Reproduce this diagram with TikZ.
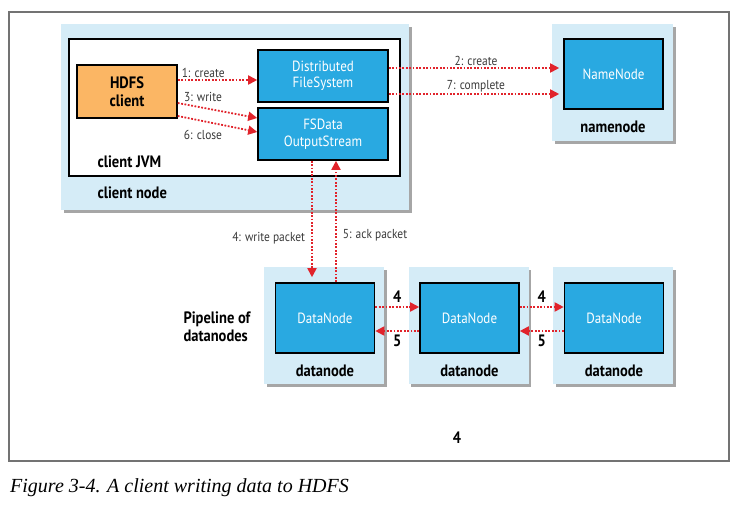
\documentclass[tikz,border=0pt]{standalone}
\usepackage{fontspec}
\setmainfont{PT Sans}[FakeStretch=0.88]
\newfontfamily\captionfont{Liberation Serif}
\usetikzlibrary{arrows.meta,shadows,positioning}

\definecolor{hostblue}{HTML}{D5ECF7}
\definecolor{procblue}{HTML}{29A9E1}
\definecolor{clientorange}{HTML}{FBB664}
\definecolor{flowred}{HTML}{E1232B}
\definecolor{labelgray}{HTML}{3A3A3A}

\tikzset{
  host/.style={fill=hostblue, inner sep=0pt, minimum width=120pt, minimum height=117pt,
    drop shadow={shadow xshift=2.5pt, shadow yshift=-2.5pt, fill=black, opacity=0.35}},
  proc/.style={draw=black, line width=1.6pt, fill=procblue, text=white, align=center,
    font=\fontsize{14.8}{16.5}\selectfont, inner sep=0pt, minimum width=99pt, minimum height=70pt},
  hostlabel/.style={text=black, font=\fontsize{16.5}{18}\selectfont\bfseries},
  flow/.style={flowred, line width=1.8pt, dash pattern=on 1.8pt off 1.6pt,
    -{Triangle[length=9pt,width=9pt]}},
  flowtext/.style={text=labelgray, inner sep=1pt}
}

\begin{document}
\begin{tikzpicture}[x=1pt,y=-1pt, font=\fontsize{13}{15}\selectfont]
    \useasboundingbox (0,0) rectangle (746,509);
    \draw[black!55, line width=1.2pt] (9,12) rectangle (729,461);

    % client side
    \node[host, minimum width=348pt, minimum height=186pt] (clientnode) at (235,117) {};
    \node[draw=black, line width=1.5pt, fill=white, minimum width=331pt, minimum height=137pt] (jvm) at (234.5,107.5) {};
    \node[draw=black, line width=1.6pt, fill=clientorange, font=\fontsize{16.5}{18}\selectfont\bfseries, align=center,
      minimum width=100pt, minimum height=53pt, inner sep=0pt] (hdfsclient) at (127,91.5) {HDFS\\client};
    \node[proc, minimum width=130pt, minimum height=52pt] (dfs) at (323,76) {Distributed\\FileSystem};
    \node[proc, minimum width=130pt, minimum height=52pt] (fsdos) at (323,134) {FSData\\OutputStream};
    \node[hostlabel, anchor=west] (jvmlabel) at (94,162) {client JVM};
    \node[hostlabel, anchor=west] (clientlabel) at (94,193) {client node};

    % namenode
    \node[host, minimum width=121pt] (nnhost) at (612.5,82.5) {};
    \node[proc] (nn) at (613.5,74) {NameNode};
    \node[hostlabel] (nnlabel) at (613,127) {namenode};

    % datanodes
    \foreach \i/\x in {1/324, 2/468.5, 3/613} {
      \node[host] (dnhost\i) at (\x,325.5) {};
      \node[proc] (dn\i) at (\x+1,318) {DataNode};
      \node[hostlabel] (dnlabel\i) at (\x+1,371) {datanode};
    }
    \node[hostlabel, align=left, anchor=west] (pipeline) at (180,327) {Pipeline of\\datanodes};

    % flows
    \draw[flow] (hdfsclient.east |- 0,80) -- node[flowtext, above, pos=0.32] {1: create} (dfs.west |- 0,80);
    \draw[flow] (hdfsclient.east |- 0,103) -- (fsdos.west |- 0,118);
    \draw[flow] (hdfsclient.east |- 0,116) -- (fsdos.west |- 0,132);
    \node[flowtext] (writelabel) at (203,97) {3: write};
    \node[flowtext] (closelabel) at (203,135) {6: close};
    \draw[flow, shorten >=4pt] (dfs.east |- 0,68) -- node[flowtext, above] {2: create} (nn.west |- 0,68);
    \draw[flow, shorten >=4pt] (dfs.east |- 0,94) -- node[flowtext, above] {7: complete} (nn.west |- 0,94);
    \draw[flow, shorten >=5pt] (fsdos.south -| 312,0) -- node[flowtext, left=5pt, pos=0.64] {4: write packet} (dn1.north -| 312,0);
    \draw[flow] (dn1.north -| 336,0) -- node[flowtext, right=5pt, pos=0.39] {5: ack packet} (fsdos.south -| 336,0);
    \foreach \a/\b in {1/2, 2/3} {
      \draw[flow] (dn\a.east |- 0,307) -- node[hostlabel, above=0pt] {4} (dn\b.west |- 0,307);
      \draw[flow] (dn\b.west |- 0,331) -- node[hostlabel, below=0pt] {5} (dn\a.east |- 0,331);
    }
    \node[hostlabel] (stepfour) at (457,438) {4};

    \node[anchor=west, inner sep=0pt, font=\captionfont\itshape\fontsize{20}{22}\selectfont] (caption) at (10,488)
      {Figure 3-4. A client writing data to HDFS};
\end{tikzpicture}
\end{document}
